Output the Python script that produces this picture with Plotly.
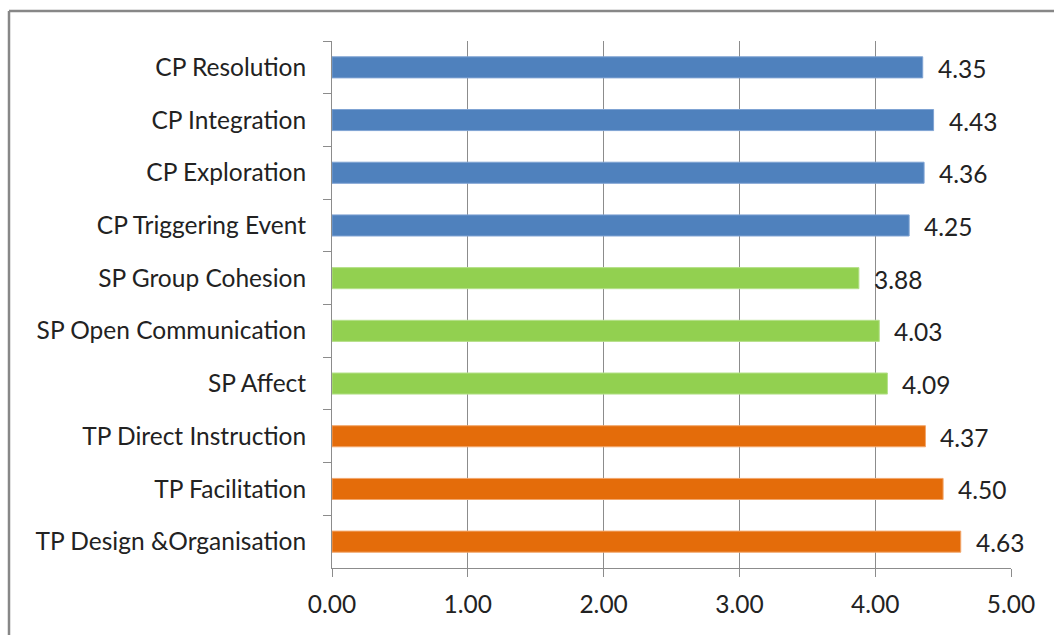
import plotly.graph_objects as go

# Categories listed top to bottom
categories = [
    "CP Resolution",
    "CP Integration",
    "CP Exploration",
    "CP Triggering Event",
    "SP Group Cohesion",
    "SP Open Communication",
    "SP Affect",
    "TP Direct Instruction",
    "TP Facilitation",
    "TP Design &Organisation",
]
scores = [4.35, 4.43, 4.36, 4.25, 3.88, 4.03, 4.09, 4.37, 4.50, 4.63]
groups = ["CP", "CP", "CP", "CP", "SP", "SP", "SP", "TP", "TP", "TP"]
x_ticks = [0, 1, 2, 3, 4, 5]
x_tick_labels = ["0.00", "1.00", "2.00", "3.00", "4.00", "5.00"]

group_colors = {"CP": "#4F81BD", "SP": "#92D050", "TP": "#E46C0A"}
group_edges = {"CP": "#7FA3D3", "SP": "#B5E08A", "TP": "#F2A66B"}

W, H = 1054, 635
L, R, T, B = 332, 43, 41, 67
FONT = "Lato"
FS = 24.5
TXT = "#222222"

fig = go.Figure(
    go.Bar(
        x=scores,
        y=categories,
        orientation="h",
        width=0.4,
        marker=dict(
            color=[group_colors[g] for g in groups],
            line=dict(color=[group_edges[g] for g in groups], width=1),
        ),
        hoverinfo="x+y",
    )
)

# value labels to the right of each bar
for c, v in zip(categories, scores):
    fig.add_annotation(
        x=v, y=c, text=f"{v:.2f}", showarrow=False,
        xanchor="left", xshift=13, yshift=-1,
        font=dict(family=FONT, size=FS, color=TXT),
    )

# outer chart frame (top and left edges visible)
pw = W - L - R
ph = H - T - B
def px_x(p):
    return (p - L) / pw
def px_y(p):
    return (H - B - p) / ph

frame = dict(color="#878787", width=2.5)
fig.add_shape(type="line", xref="paper", yref="paper",
              x0=px_x(9), x1=px_x(W + 5), y0=px_y(11), y1=px_y(11), line=frame)
fig.add_shape(type="line", xref="paper", yref="paper",
              x0=px_x(9), x1=px_x(9), y0=px_y(11), y1=px_y(H + 5), line=frame)

fig.update_layout(
    width=W, height=H,
    margin=dict(l=L, r=R, t=T, b=B),
    paper_bgcolor="white", plot_bgcolor="white",
    showlegend=False,
    font=dict(family=FONT, size=FS, color=TXT),
    xaxis=dict(
        range=[0, 5], tickvals=x_ticks, ticktext=x_tick_labels,
        showgrid=True, gridcolor="#8C8C8C", gridwidth=1,
        showline=True, linecolor="#8C8C8C", linewidth=1,
        ticks="outside", ticklen=8, tickcolor="#8C8C8C",
        zeroline=False, tickfont=dict(size=FS, family=FONT, color=TXT),
        ticklabelstandoff=7,
        fixedrange=True,
    ),
    yaxis=dict(
        type="category", categoryorder="array", categoryarray=categories,
        autorange="reversed",
        showline=True, linecolor="#8C8C8C", linewidth=1,
        ticks="outside", ticklen=8, tickcolor="#8C8C8C", tickson="boundaries",
        showgrid=False, zeroline=False,
        tickfont=dict(size=FS, family=FONT, color=TXT),
        ticklabelstandoff=20,
        fixedrange=True,
    ),
)

fig.write_html("out.html")
